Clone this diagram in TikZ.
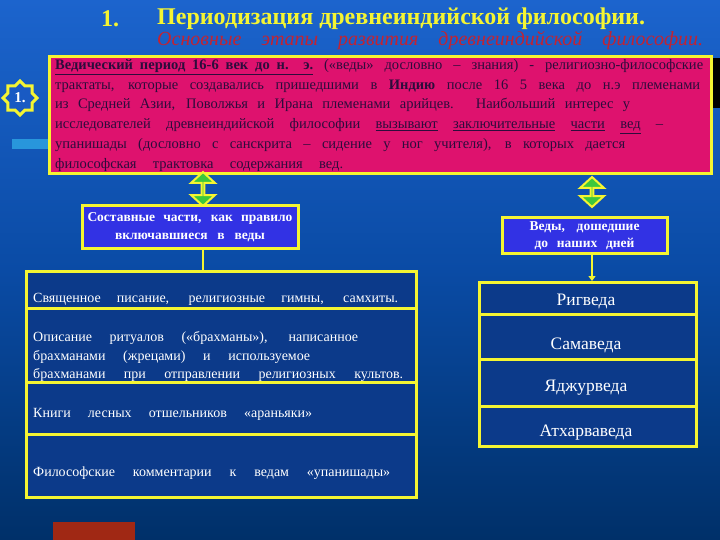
\documentclass[tikz,border=0pt]{standalone}
\usepackage{fontspec}
\setmainfont{Liberation Serif}
\usetikzlibrary{shapes.geometric,shapes.arrows,arrows.meta}
\definecolor{bgtop}{RGB}{28,100,205}
\definecolor{bgmid}{RGB}{10,75,165}
\definecolor{bgbot}{RGB}{0,48,105}
\definecolor{ylw}{RGB}{245,245,50}
\definecolor{pinkf}{RGB}{222,18,110}
\definecolor{pinktxt}{RGB}{45,12,60}
\definecolor{compf}{RGB}{50,50,228}
\definecolor{listf}{RGB}{12,58,138}
\definecolor{grn}{RGB}{60,200,60}
\definecolor{subred}{RGB}{195,35,50}
\definecolor{lblue}{RGB}{40,150,220}
\definecolor{starblue}{RGB}{25,90,195}
\definecolor{darkred}{RGB}{160,40,20}
\newcommand{\jline}[2]{\makebox[#1pt][s]{#2}}
\begin{document}
\begin{tikzpicture}[x=1pt,y=-1pt,
  ptext/.style={anchor=base west,inner sep=0,text=pinktxt,font=\fontsize{14.5}{16}\selectfont},
  ltext/.style={anchor=base west,inner sep=0,text=white,font=\fontsize{14}{16}\selectfont},
  rtext/.style={anchor=base,inner sep=0,text=white,font=\fontsize{17.5}{19}\selectfont},
  hbox/.style={draw=ylw,line width=3pt,fill=compf,text=white,align=center,inner sep=0,font=\fontsize{13.5}{18}\selectfont\bfseries},
  listbox/.style={draw=ylw,line width=3pt,fill=listf,inner sep=0,anchor=north west},
  divider/.style={draw=ylw,line width=3pt},
  conn/.style={draw=ylw,line width=2pt},
  dblarrow/.style={double arrow,draw=ylw,fill=grn,line width=2pt,rotate=90,inner sep=0,
     minimum width=24pt,double arrow head extend=7.5pt,double arrow tip angle=95},
  titlefont/.style={text=ylw,inner sep=0,font=\fontsize{24}{26}\selectfont\bfseries}
]
\useasboundingbox (0,0) rectangle (720,540);
\shade[top color=bgtop, bottom color=bgbot, middle color=bgmid] (0,0) rectangle (720,540);
% template decorations
\fill[black] (708,58) rectangle (720,108);
\fill[lblue] (12,139) rectangle (48,149);
\fill[darkred] (53,522) rectangle (135,540);

% title
\node[titlefont] (tnum) at (110,19) {1.};
\node[titlefont,anchor=west] (ttl) at (157,19) {Периодизация древнеиндийской философии.};
\node[anchor=west,inner sep=0,text=subred,font=\fontsize{20}{22}\selectfont\itshape] (sub) at (157,41)
  {\jline{546}{Основные этапы развития древнеиндийской философии.}};

% intro box
\node[draw=ylw,line width=3pt,fill=pinkf,anchor=north west,minimum width=662pt,minimum height=117pt,inner sep=0] (intro) at (48,55) {};
\node[ptext] (l1) at (55,70) {\jline{648}{\underline{\makebox[258pt][s]{\textbf{Ведический период 16-6 век до н. э.}}} («веды» дословно – знания) - религиозно-философские}};
\node[ptext] (l2) at (55,90) {\jline{645}{трактаты, которые создавались пришедшими в \textbf{Индию} после 16 5 века до н.э племенами}};
\node[ptext] (l3) at (55,109) {\jline{575}{из Средней Азии, Поволжья и Ирана племенами арийцев. Наибольший интерес у}};
\node[ptext] (l4) at (55,129) {\jline{608}{исследователей древнеиндийской философии \underline{вызывают} \underline{заключительные} \underline{части} \underline{вед} –}};
\node[ptext] (l5) at (55,149) {\jline{570}{упанишады (дословно с санскрита – сидение у ног учителя), в которых дается}};
\node[ptext] (l6) at (55,169) {\jline{288}{философская трактовка содержания вед.}};

% badge
\node[star,star points=8,star point ratio=1.3,minimum size=34pt,draw=ylw,line width=3pt,fill=starblue,inner sep=0,text=white,font=\bfseries\fontsize{15}{15}\selectfont] (badge) at (20,98) {1.};

% double arrows
\node[dblarrow,minimum height=34pt] (a1) at (203,189) {};
\node[dblarrow,minimum height=30pt] (a2) at (592,192) {};

% heading boxes
\node[hbox,minimum width=216pt,minimum height=42pt] (comp) at (190,227) {\jline{205}{Составные части, как правило}\\\jline{150}{включавшиеся в веды}};
\node[hbox,minimum width=165pt,minimum height=35pt,font=\fontsize{13.5}{17}\selectfont\bfseries] (vedy) at (584.5,235.5) {\jline{110}{Веды, дошедшие}\\\jline{100}{до наших дней}};

% left list
\node[listbox,minimum width=390pt,minimum height=226pt] (llist) at (25,270) {};
\draw[divider] (llist.west |- 0,308) -- (llist.east |- 0,308);
\draw[divider] (llist.west |- 0,382) -- (llist.east |- 0,382);
\draw[divider] (llist.west |- 0,434) -- (llist.east |- 0,434);
\node[ltext] (t1) at (33,302) {\jline{365}{Священное писание, религиозные гимны, самхиты.}};
\node[ltext] (t2a) at (33,341) {\jline{325}{Описание ритуалов («брахманы»), написанное}};
\node[ltext] (t2b) at (33,360) {\jline{277}{брахманами (жрецами) и используемое}};
\node[ltext] (t2c) at (33,378) {\jline{370}{брахманами при отправлении религиозных культов.}};
\node[ltext] (t3) at (33,417) {\jline{279}{Книги лесных отшельников «араньяки»}};
\node[ltext] (t4) at (33,476) {\jline{357}{Философские комментарии к ведам «упанишады»}};

% right list
\node[listbox,minimum width=217pt,minimum height=164pt] (rlist) at (478,281) {};
\draw[divider] (rlist.west |- 0,314) -- (rlist.east |- 0,314);
\draw[divider] (rlist.west |- 0,359) -- (rlist.east |- 0,359);
\draw[divider] (rlist.west |- 0,406) -- (rlist.east |- 0,406);
\node[rtext] (r1) at (586,305) {Ригведа};
\node[rtext] (r2) at (586,349) {Самаведа};
\node[rtext] (r3) at (586,391) {Яджурведа};
\node[rtext] (r4) at (586,436) {Атхарваведа};

% connectors
\draw[conn] (a1 |- comp.south) -- (a1 |- llist.north);
\draw[conn,-{Triangle[width=7pt,length=5pt]}] (a2 |- vedy.south) -- (a2 |- rlist.north);
\end{tikzpicture}
\end{document}
